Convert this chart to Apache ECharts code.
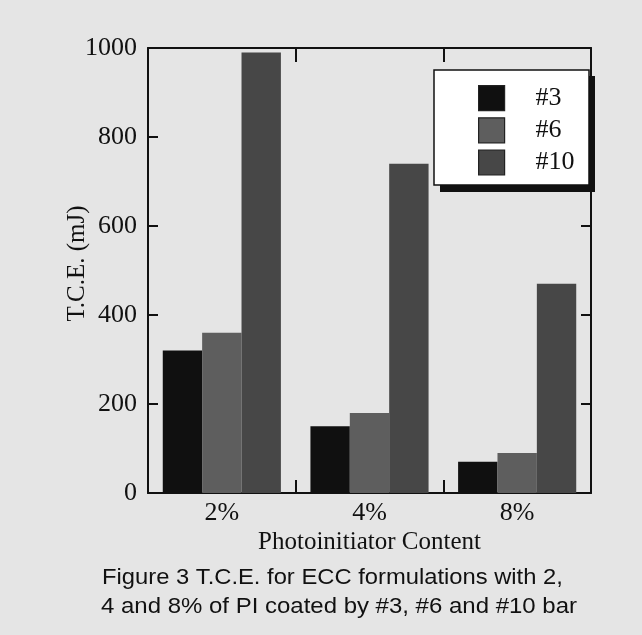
<!DOCTYPE html>
<html>
<head>
<meta charset="utf-8">
<script src="https://cdn.jsdelivr.net/npm/echarts@6/dist/echarts.min.js"></script>
<style>
  html, body { margin: 0; padding: 0; background: #e5e5e5; }
  #chart-container { width: 642px; height: 635px; }
</style>
</head>
<body>
<div id="chart-container"></div>
<script>
// Data
const categories = ["2%", "4%", "8%"];
const seriesNames = ["#3", "#6", "#10"];
const bar3 = [320, 150, 70];
const bar6 = [360, 180, 90];
const bar10 = [990, 740, 470];
const captionLines = [
  "Figure 3 T.C.E. for ECC formulations with 2,",
  "4 and 8% of PI coated by #3, #6 and #10 bar"
];

const serif = "'Liberation Serif', 'Times New Roman', serif";
const sans = "'Liberation Sans', Arial, sans-serif";
const colors = ["#101010", "#5e5e5e", "#474747"];

const dom = document.getElementById("chart-container");
const myChart = echarts.init(dom, null, { renderer: "canvas" });

const axisLine = { show: true, onZero: false, lineStyle: { color: "#111", width: 2 } };
const tickStyle = { color: "#111", width: 2 };

const barSeries = seriesNames.map((name, i) => ({
  name: name,
  type: "bar",
  data: [bar3, bar6, bar10][i],
  barGap: "0%",
  barCategoryGap: "20%",
  itemStyle: { color: colors[i] }
}));

const option = {
  backgroundColor: "#e5e5e5",
  animation: false,
  grid: { left: 148, right: 51, top: 48, bottom: 142 },
  legend: {
    data: seriesNames,
    orient: "vertical",
    left: 478, top: 85,
    padding: 0,
    itemWidth: 26, itemHeight: 25, itemGap: 6,
    icon: "rect",
    itemStyle: { borderColor: "#222", borderWidth: 1.2 },
    textStyle: { fontFamily: serif, fontSize: 26, color: "#111", padding: [0, 0, 0, 26] }
  },
  xAxis: [
    {
      type: "category",
      data: categories,
      position: "bottom",
      name: "Photoinitiator Content",
      nameLocation: "middle",
      nameGap: 37,
      nameMoveOverlap: false,
      nameTextStyle: { fontFamily: serif, fontSize: 25, color: "#111" },
      axisLine: axisLine,
      axisTick: { show: true, inside: true, length: 13, alignWithLabel: false, lineStyle: tickStyle },
      axisLabel: { fontFamily: serif, fontSize: 26, color: "#111", margin: 7 }
    },
    {
      type: "category",
      data: categories,
      position: "top",
      axisLine: axisLine,
      axisTick: { show: true, inside: true, length: 14, alignWithLabel: false, lineStyle: tickStyle },
      axisLabel: { show: false }
    }
  ],
  yAxis: [
    {
      type: "value",
      min: 0, max: 1000, interval: 200,
      name: "T.C.E. (mJ)",
      nameLocation: "middle",
      nameGap: 58,
      nameMoveOverlap: false,
      nameTextStyle: { fontFamily: serif, fontSize: 25, color: "#111", padding: [0, 0, 0, 14] },
      splitLine: { show: false },
      axisLine: axisLine,
      axisTick: { show: true, inside: true, length: 10, lineStyle: tickStyle },
      axisLabel: { fontFamily: serif, fontSize: 26, color: "#111", margin: 11, formatter: (v) => String(v) }
    },
    {
      type: "value",
      position: "right",
      min: 0, max: 1000, interval: 200,
      splitLine: { show: false },
      axisLine: axisLine,
      axisTick: { show: true, inside: true, length: 10, lineStyle: tickStyle },
      axisLabel: { show: false }
    }
  ],
  series: barSeries,
  graphic: [
    // legend box with drop shadow
    {
      type: "rect", z: 3,
      shape: { x: 440, y: 76, width: 155, height: 116 },
      style: { fill: "#111" }
    },
    {
      type: "rect", z: 3,
      shape: { x: 434, y: 70, width: 155, height: 115 },
      style: { fill: "#fff", stroke: "#111", lineWidth: 1.5 }
    },
    {
      type: "text",
      x: 102, y: 578, scaleX: 1.08,
      style: {
        text: captionLines[0],
        font: "22px " + sans,
        fill: "#111",
        textVerticalAlign: "middle"
      }
    },
    {
      type: "text",
      x: 101, y: 607, scaleX: 1.09,
      style: {
        text: captionLines[1],
        font: "22px " + sans,
        fill: "#111",
        textVerticalAlign: "middle"
      }
    }
  ]
};

myChart.setOption(option);
window.addEventListener("resize", myChart.resize);
</script>
</body>
</html>
